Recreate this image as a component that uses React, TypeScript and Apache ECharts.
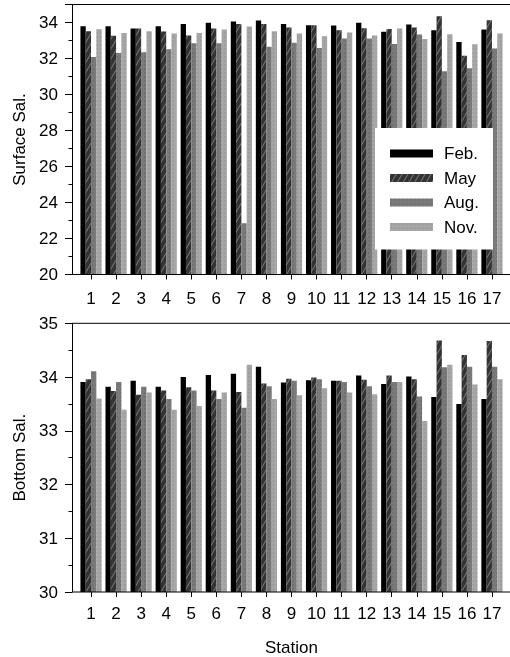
import React, { useEffect, useRef } from "react";
import * as echarts from "echarts";

const stations = ["1","2","3","4","5","6","7","8","9","10","11","12","13","14","15","16","17"];
const seriesNames = ["Feb.", "May", "Aug.", "Nov."];

const surfFeb = [33.79, 33.79, 33.67, 33.79, 33.91, 33.98, 34.05, 34.11, 33.91, 33.85, 33.83, 33.98, 33.48, 33.89, 33.57, 32.92, 33.61];
const surfMay = [33.52, 33.26, 33.67, 33.50, 33.28, 33.67, 33.92, 33.91, 33.72, 33.85, 33.57, 33.68, 33.64, 33.72, 34.35, 32.15, 34.13];
const surfAug = [32.09, 32.31, 32.35, 32.52, 32.85, 32.85, 22.85, 32.65, 32.87, 32.59, 33.11, 33.11, 32.81, 33.33, 31.29, 31.46, 32.55];
const surfNov = [33.63, 33.41, 33.52, 33.39, 33.41, 33.61, 33.78, 33.52, 33.39, 33.24, 33.44, 33.28, 33.66, 33.09, 33.35, 32.79, 33.39];

const botFeb = [33.91, 33.82, 33.93, 33.82, 34.00, 34.04, 34.06, 34.19, 33.90, 33.94, 33.93, 34.03, 33.87, 34.01, 33.63, 33.50, 33.59];
const botMay = [33.96, 33.74, 33.67, 33.75, 33.81, 33.75, 33.72, 33.88, 33.97, 33.99, 33.93, 33.95, 34.03, 33.96, 34.68, 34.41, 34.67];
const botAug = [34.11, 33.91, 33.82, 33.59, 33.75, 33.59, 33.43, 33.83, 33.93, 33.96, 33.91, 33.83, 33.91, 33.64, 34.18, 34.19, 34.19];
const botNov = [33.60, 33.39, 33.71, 33.39, 33.46, 33.71, 34.23, 33.59, 33.66, 33.79, 33.71, 33.68, 33.91, 33.18, 34.23, 33.86, 33.96];

const surfaceTicks = { min: 20, max: 35, interval: 2 };
const bottomTicks = { min: 30, max: 35, interval: 1 };

const FONT = "'Liberation Sans', Arial, Helvetica, sans-serif";
const colors = ["#000000", "#333333", "#7a7a7a", "#a6a6a6"];
const decals: any[] = [
  null,
  { symbol: "rect", symbolSize: 1, dashArrayX: [1, 0], dashArrayY: [1, 4], rotation: -Math.PI / 3, color: "rgba(200,200,200,0.45)" },
  { symbol: "circle", symbolSize: 0.6, dashArrayX: [[2, 2]], dashArrayY: [2, 2], color: "rgba(40,40,40,0.35)" },
  { symbol: "circle", symbolSize: 0.6, dashArrayX: [[2, 2]], dashArrayY: [2, 2], color: "rgba(90,90,90,0.35)" },
];

export default function App() {
  const ref = useRef<HTMLDivElement>(null);
  useEffect(() => {
    if (!ref.current) return;
    const chart = echarts.init(ref.current, null, { renderer: "svg" });
    const L = 78.5, R = 5.5;
    const topT = 4.5, topH = 270;
    const botT = 323.3, botH = 268.7;
    const axisX = 72;
    const surf = [surfFeb, surfMay, surfAug, surfNov];
    const bot = [botFeb, botMay, botAug, botNov];
    const mkSeries = (arr: number[][], idx: number) =>
      arr.map((d, i) => ({
        name: seriesNames[i],
        type: "bar",
        xAxisIndex: idx,
        yAxisIndex: idx,
        data: d,
        barWidth: 5.3,
        barGap: "0%",
        itemStyle: { color: colors[i], decal: decals[i] || undefined },
      }));
    const xAx = (gi: number, margin: number, name?: string) => ({
      type: "category",
      gridIndex: gi,
      data: stations,
      boundaryGap: true,
      axisLine: { show: false },
      axisTick: { show: true, alignWithLabel: true, length: 5, lineStyle: { color: "#000" } },
      axisLabel: { color: "#000", fontSize: 17, fontFamily: FONT, margin, interval: 0 },
      name: name || "",
      nameLocation: "middle",
      nameGap: 47,
      nameTextStyle: { color: "#000", fontSize: 17, fontFamily: FONT },
    });
    const yAx = (gi: number, t: any, name: string) => ({
      type: "value",
      gridIndex: gi,
      min: t.min,
      max: t.max,
      interval: t.interval,
      offset: L - axisX,
      axisLine: { show: true, lineStyle: { color: "#000", width: 1 } },
      axisTick: { show: true, inside: false, length: 7, lineStyle: { color: "#000" } },
      minorTick: { show: true, splitNumber: 2, length: 3.5, lineStyle: { color: "#000" } },
      splitLine: { show: false },
      axisLabel: { color: "#000", fontSize: 17, fontFamily: FONT, margin: 14, showMaxLabel: gi === 1 },
      name,
      nameLocation: "middle",
      nameGap: 44,
      nameTextStyle: { color: "#000", fontSize: 17, fontFamily: FONT },
    });
    const hline = (y: number) => ({
      type: "line",
      shape: { x1: axisX, y1: y, x2: 510, y2: y },
      style: { stroke: "#000", lineWidth: 1 },
      z: 10,
    });
    chart.setOption({
      animation: false,
      textStyle: { fontFamily: FONT },
      grid: [
        { left: L, right: R, top: topT, height: topH },
        { left: L, right: R, top: botT, height: botH },
      ],
      xAxis: [xAx(0, 15), xAx(1, 13, "Station")],
      yAxis: [yAx(0, surfaceTicks, "Surface Sal."), yAx(1, bottomTicks, "Bottom Sal.")],
      legend: {
        data: seriesNames,
        orient: "vertical",
        left: 375,
        top: 128,
        backgroundColor: "#fff",
        padding: [17, 14, 14, 15],
        itemWidth: 43,
        itemHeight: 8,
        itemGap: 7.5,
        icon: "rect",
        selectedMode: false,
        textStyle: { color: "#000", fontSize: 17, fontFamily: FONT, padding: [0, 0, 0, 6] },
        z: 20,
      },
      graphic: [hline(topT), hline(topT + topH), hline(botT), hline(botT + botH)],
      series: [...mkSeries(surf, 0), ...mkSeries(bot, 1)],
    });
    return () => chart.dispose();
  }, []);
  return <div ref={ref} style={{ position: "fixed", left: 0, top: 0, width: 510, height: 657 }} />;
}
